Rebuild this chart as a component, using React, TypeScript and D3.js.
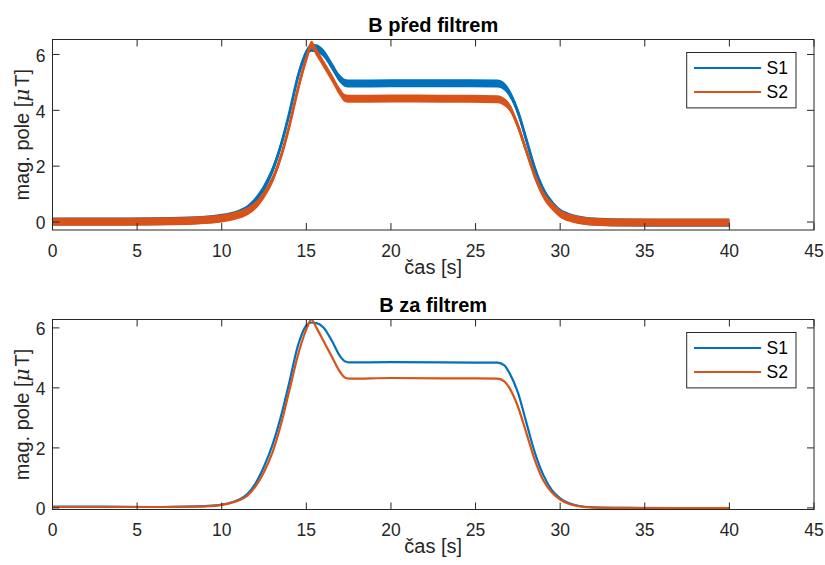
import React from 'react';
import * as d3 from 'd3';

// ---------- data ----------
const TIME = [0, 3, 6, 8, 9, 10, 10.5, 11, 11.5, 12, 12.5, 13, 13.5, 14, 14.5, 15, 15.3, 15.6, 16, 16.5, 17, 17.3, 17.6, 20, 23, 26.3, 26.7, 27, 27.5, 28, 28.5, 29, 29.5, 30, 30.5, 31, 32, 34, 37, 40];

const RAW_S1 = [0.02, 0.02, 0.03, 0.05, 0.08, 0.15, 0.21, 0.3, 0.46, 0.76, 1.22, 1.85, 2.75, 3.9, 5.2, 6.05, 6.24, 6.22, 6.05, 5.6, 5.12, 4.98, 4.96, 4.97, 4.97, 4.96, 4.85, 4.62, 3.95, 2.95, 1.92, 1.15, 0.66, 0.34, 0.19, 0.1, 0.02, -0.02, -0.03, -0.03];
const RAW_S2 = [0.01, 0.01, 0.02, 0.04, 0.07, 0.13, 0.18, 0.26, 0.38, 0.6, 0.98, 1.52, 2.35, 3.45, 4.75, 5.85, 6.35, 6.08, 5.68, 5.17, 4.64, 4.43, 4.41, 4.42, 4.41, 4.4, 4.3, 4.12, 3.45, 2.55, 1.65, 0.98, 0.58, 0.3, 0.16, 0.08, 0.01, -0.02, -0.02, -0.02];

const FILT_S1 = [0.04, 0.04, 0.03, 0.04, 0.06, 0.11, 0.17, 0.27, 0.45, 0.82, 1.38, 2.1, 3.05, 4.2, 5.4, 6.08, 6.18, 6.16, 6.02, 5.58, 5.05, 4.88, 4.85, 4.86, 4.85, 4.84, 4.75, 4.5, 3.85, 2.85, 1.85, 1.1, 0.6, 0.32, 0.16, 0.08, 0.02, 0.0, -0.01, -0.01];
const FILT_S2 = [0.03, 0.03, 0.03, 0.04, 0.05, 0.1, 0.16, 0.25, 0.4, 0.72, 1.2, 1.85, 2.78, 3.92, 5.08, 5.95, 6.28, 6.0, 5.58, 5.05, 4.53, 4.34, 4.31, 4.33, 4.32, 4.31, 4.22, 4.0, 3.38, 2.5, 1.6, 0.92, 0.52, 0.28, 0.14, 0.07, 0.01, 0.0, -0.01, -0.01];

const X_TICKS = [0, 5, 10, 15, 20, 25, 30, 35, 40, 45];
const Y_TICKS = [0, 2, 4, 6];
const SERIES_NAMES = ['S1', 'S2'];
const TITLES = ['B před filtrem', 'B za filtrem'];
const X_LABEL = 'čas [s]';
const Y_LABEL_PARTS = ['mag. pole [', 'μ', 'T]'];
const X_DOMAIN = [0, 45];
const Y_DOMAIN_TOP = [-0.286, 6.536];
const Y_DOMAIN_BOTTOM = [-0.053, 6.28];

// ---------- style ----------
const W = 825;
const H = 565;
const LEFT = 52.5;
const RIGHT = 814;
const COLORS = ['#0072BD', '#D95319'];
const AX = '#262626';
const FONT = '"Liberation Sans", Arial, Helvetica, sans-serif';
const TICK_FS = 17.5;
const LABEL_FS = 20;
const TICK_LEN = 7;

type P = {
  id: string;
  top: number;
  bottom: number;
  yDomain: number[];
  title: string;
  s1: number[];
  s2: number[];
  noisy: boolean;
};

function Subplot({ id, top, bottom, yDomain, title, s1, s2, noisy }: P) {
  const x = d3.scaleLinear().domain(X_DOMAIN).range([LEFT, RIGHT]);
  const y = d3.scaleLinear().domain(yDomain).range([bottom, top]);
  const pts = (vals: number[]) => TIME.map((t, i) => [t, vals[i]] as [number, number]);
  const line = d3
    .line<[number, number]>()
    .x((d) => x(d[0]))
    .y((d) => y(d[1]))
    .curve(d3.curveMonotoneX);
  const band = d3
    .area<[number, number]>()
    .x((d) => x(d[0]))
    .y0((d) => y(d[1]) + 4)
    .y1((d) => y(d[1]) - 4)
    .curve(d3.curveMonotoneX);
  const series = [s1, s2];
  const cx = (LEFT + RIGHT) / 2;
  const cy = (top + bottom) / 2;
  const lgTop = top + 13;
  const lgLeft = 686.7;
  const lgW = 109.3;
  const lgH = 55.4;
  return (
    <g>
      <defs>
        <clipPath id={id}>
          <rect x={LEFT} y={top} width={RIGHT - LEFT} height={bottom - top} />
        </clipPath>
      </defs>
      <rect x={LEFT} y={top} width={RIGHT - LEFT} height={bottom - top} fill="#fff" />
      <g clipPath={`url(#${id})`}>
        {series.map((s, i) => (
          <g key={i}>
            {noisy && <path d={band(pts(s)) || ''} fill={COLORS[i]} stroke="none" />}
            <path
              d={line(pts(s)) || ''}
              fill="none"
              stroke={COLORS[i]}
              strokeWidth={noisy ? 2.8 : 2.2}
              strokeLinejoin="round"
            />
          </g>
        ))}
      </g>
      {/* axes box */}
      <rect x={LEFT} y={top} width={RIGHT - LEFT} height={bottom - top} fill="none" stroke={AX} strokeWidth={1} />
      {/* x ticks */}
      {X_TICKS.map((t) => (
        <g key={'x' + t}>
          <line x1={x(t)} x2={x(t)} y1={bottom} y2={bottom - TICK_LEN} stroke={AX} strokeWidth={1} />
          <line x1={x(t)} x2={x(t)} y1={top} y2={top + TICK_LEN} stroke={AX} strokeWidth={1} />
          <text
            x={x(t)}
            y={bottom + 26.5}
            textAnchor="middle"
            fontSize={TICK_FS}
            fontFamily={FONT}
            fill={AX}
          >
            {t}
          </text>
        </g>
      ))}
      {/* y ticks */}
      {Y_TICKS.map((t) => (
        <g key={'y' + t}>
          <line x1={LEFT} x2={LEFT + TICK_LEN} y1={y(t)} y2={y(t)} stroke={AX} strokeWidth={1} />
          <line x1={RIGHT} x2={RIGHT - TICK_LEN} y1={y(t)} y2={y(t)} stroke={AX} strokeWidth={1} />
          <text
            x={LEFT - 7}
            y={y(t) + 7.3}
            textAnchor="end"
            fontSize={TICK_FS}
            fontFamily={FONT}
            fill={AX}
          >
            {t}
          </text>
        </g>
      ))}
      {/* title */}
      <text
        x={cx}
        y={top - 7.7}
        textAnchor="middle"
        fontSize={LABEL_FS}
        fontWeight="bold"
        fontFamily={FONT}
        fill="#000"
      >
        {title}
      </text>
      {/* x label */}
      <text x={cx} y={bottom + 43.5} textAnchor="middle" fontSize={LABEL_FS} fontFamily={FONT} fill={AX}>
        {X_LABEL}
      </text>
      {/* y label */}
      <text
        transform={`translate(28.5, ${cy}) rotate(-90)`}
        textAnchor="middle"
        fontSize={LABEL_FS}
        fontFamily={FONT}
        fill={AX}
      >
        {Y_LABEL_PARTS[0]}
        <tspan fontStyle="italic" fontFamily='"DejaVu Serif", "Liberation Serif", serif'>
          {Y_LABEL_PARTS[1]}
        </tspan>
        <tspan dx={2}>{Y_LABEL_PARTS[2]}</tspan>
      </text>
      {/* legend */}
      <rect x={lgLeft} y={lgTop} width={lgW} height={lgH} fill="#fff" stroke={AX} strokeWidth={1} />
      {SERIES_NAMES.map((n, i) => {
        const ly = lgTop + 15.5 + i * 24;
        return (
          <g key={n}>
            <line x1={694} x2={761} y1={ly} y2={ly} stroke={COLORS[i]} strokeWidth={2.2} />
            <text x={766.5} y={ly + 6.4} fontSize={TICK_FS} fontFamily={FONT} fill="#000">
              {n}
            </text>
          </g>
        );
      })}
    </g>
  );
}

export default function App() {
  return (
    <svg
      width={W}
      height={H}
      viewBox={`0 0 ${W} ${H}`}
      style={{ position: 'absolute', left: 0, top: 0, background: '#fff' }}
    >
      <rect x={0} y={0} width={W} height={H} fill="#fff" />
      <Subplot
        id="clipTop"
        top={39.5}
        bottom={230}
        yDomain={Y_DOMAIN_TOP}
        title={TITLES[0]}
        s1={RAW_S1}
        s2={RAW_S2}
        noisy={true}
      />
      <Subplot
        id="clipBottom"
        top={319.5}
        bottom={509.5}
        yDomain={Y_DOMAIN_BOTTOM}
        title={TITLES[1]}
        s1={FILT_S1}
        s2={FILT_S2}
        noisy={false}
      />
    </svg>
  );
}
